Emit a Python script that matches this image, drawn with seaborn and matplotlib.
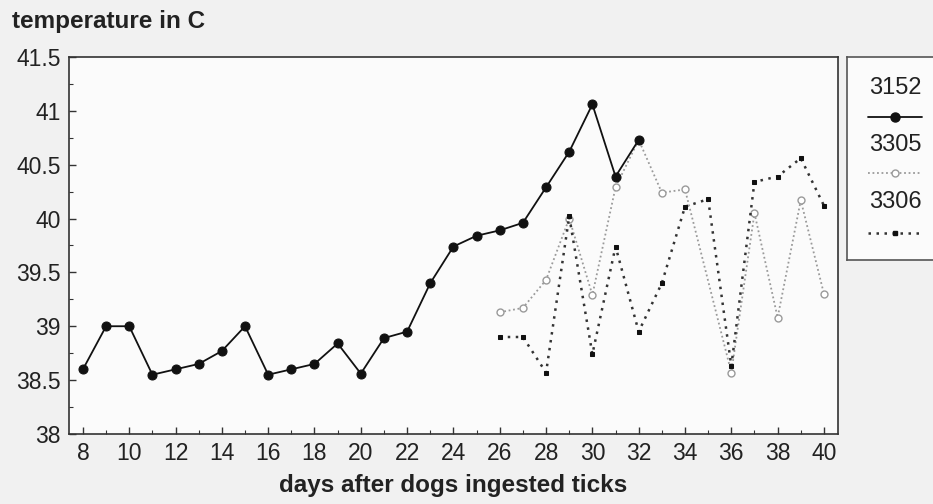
import numpy as np
import pandas as pd
import seaborn as sns
import matplotlib.pyplot as plt
from matplotlib.ticker import MultipleLocator, FormatStrFormatter

# data
days_3152 = [8, 9, 10, 11, 12, 13, 14, 15, 16, 17, 18, 19, 20,
             21, 22, 23, 24, 25, 26, 27, 28, 29, 30, 31, 32]
temp_3152 = [38.6, 39.0, 39.0, 38.55, 38.6, 38.65, 38.77, 39.0, 38.55,
             38.6, 38.65, 38.84, 38.56, 38.89, 38.95, 39.4, 39.74, 39.84,
             39.89, 39.96, 40.29, 40.62, 41.06, 40.39, 40.73]

days_3305 = [26, 27, 28, 29, 30, 31, 32, 33, 34, 36, 37, 38, 39, 40]
temp_3305 = [39.13, 39.17, 39.43, 40.0, 39.29, 40.29, 40.73, 40.24, 40.27,
             38.57, 40.05, 39.08, 40.17, 39.3]

days_3306 = [26, 27, 28, 29, 30, 31, 32, 33, 34, 35, 36, 37, 38, 39, 40]
temp_3306 = [38.9, 38.9, 38.57, 40.02, 38.74, 39.74, 38.95, 39.4, 40.11,
             40.18, 38.63, 40.34, 40.39, 40.56, 40.12]

dog_ids = ["3152", "3305", "3306"]

sns.set_theme(style="white")
plt.rcParams["font.family"] = ["Liberation Sans", "DejaVu Sans"]

fig = plt.figure(figsize=(9.33, 5.04), dpi=100)
fig.patch.set_facecolor("#f1f1f1")

ax = fig.add_axes([0.074, 0.139, 0.824, 0.748])
ax.set_facecolor("#fbfbfb")

styles = {
    "3152": dict(color="#111111", linestyle="-", linewidth=1.3, marker="o",
                 markersize=6.5, markerfacecolor="#111111",
                 markeredgecolor="#111111"),
    "3305": dict(color="#9a9a9a", linestyle=(0, (1, 1.5)), linewidth=1.3,
                 marker="o", markersize=5, markerfacecolor="white",
                 markeredgecolor="#9a9a9a", markeredgewidth=1),
    "3306": dict(color="#333333", linestyle=(0, (1, 2.2)), linewidth=1.8,
                 marker="s", markersize=3.5, markerfacecolor="#111111",
                 markeredgecolor="#111111"),
}

series = {
    "3152": (days_3152, temp_3152),
    "3305": (days_3305, temp_3305),
    "3306": (days_3306, temp_3306),
}

for dog in ["3305", "3306", "3152"]:
    d, t = series[dog]
    df = pd.DataFrame({"day": d, "temp": t})
    sns.lineplot(data=df, x="day", y="temp", ax=ax, **styles[dog])

ax.set_xlim(7.4, 40.6)
ax.set_ylim(38, 41.5)
ax.xaxis.set_major_locator(MultipleLocator(2))
ax.xaxis.set_minor_locator(MultipleLocator(1))
ax.yaxis.set_major_locator(MultipleLocator(0.5))
ax.yaxis.set_minor_locator(MultipleLocator(0.25))
ax.yaxis.set_major_formatter(FormatStrFormatter("%g"))
ax.tick_params(which="both", direction="in", colors="#333333",
               labelcolor="#222222", labelsize=16.5, pad=6)
ax.tick_params(which="major", length=5, width=1)
ax.tick_params(which="minor", length=3, width=0.8)
ax.tick_params(axis="both", which="both", bottom=True, left=True)
for s in ax.spines.values():
    s.set_color("#333333")
    s.set_linewidth(1.2)

ax.set_xlabel("days after dogs ingested ticks", fontsize=17.5,
              fontweight="bold", color="#222222", labelpad=6)
ax.set_ylabel("")
fig.text(0.013, 0.944, "temperature in C", fontsize=17.5, fontweight="bold",
         color="#222222", ha="left", va="baseline")

# legend panel with label above each sample line
lax = fig.add_axes([0.908, 0.484, 0.1, 0.403])
lax.set_facecolor("#fbfbfb")
lax.set_xlim(0, 1)
lax.set_ylim(0, 1)
lax.set_xticks([])
lax.set_yticks([])
for s in lax.spines.values():
    s.set_color("#555555")
    s.set_linewidth(1.2)

text_y = [0.847, 0.567, 0.286]
line_y = [0.704, 0.429, 0.133]
for dog, ty, ly in zip(dog_ids, text_y, line_y):
    lax.text(0.23, ty, dog, fontsize=17, color="#222222",
             ha="left", va="center")
    st = styles[dog]
    lax.plot([0.22, 0.8], [ly, ly], color=st["color"],
             linestyle=st["linestyle"], linewidth=st["linewidth"])
    lax.plot([0.51], [ly], marker=st["marker"],
             markersize=st["markersize"],
             markerfacecolor=st["markerfacecolor"],
             markeredgecolor=st["markeredgecolor"],
             linestyle="none")

fig.savefig("out.png", dpi=100, facecolor=fig.get_facecolor())
